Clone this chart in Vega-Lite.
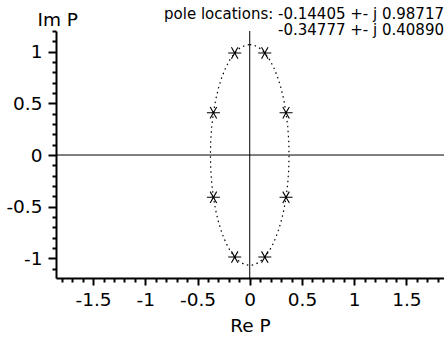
{
  "$schema": "https://vega.github.io/schema/vega-lite/v6.json",
  "width": 388,
  "height": 247,
  "autosize": {"type": "none"},
  "padding": {"left": 56, "top": 31, "right": 0, "bottom": 63},
  "background": "white",
  "config": {
    "view": {"stroke": null},
    "font": "DejaVu Sans",
    "axis": {
      "grid": false,
      "domainColor": "black",
      "tickColor": "black",
      "labelColor": "black",
      "titleColor": "black",
      "labelFont": "DejaVu Sans",
      "titleFont": "DejaVu Sans",
      "titleFontWeight": "normal"
    }
  },
  "title": {
    "text": ["pole locations: -0.14405 +- j 0.98717", "-0.34777 +- j 0.40890"],
    "anchor": "end",
    "frame": "group",
    "align": "right",
    "baseline": "alphabetic",
    "font": "DejaVu Sans",
    "fontSize": 15,
    "fontWeight": "normal",
    "color": "black",
    "lineHeight": 16.5,
    "offset": 0,
    "dy": 40,
    "dx": 0
  },
  "datasets": {
    "ellipse": [
      {"i": 0, "re": 0, "im": 1.0685},
      {"i": 1, "re": 0.0491, "im": 1.0593},
      {"i": 2, "re": 0.0974, "im": 1.0321},
      {"i": 3, "re": 0.1441, "im": 0.9872},
      {"i": 4, "re": 0.1883, "im": 0.9253},
      {"i": 5, "re": 0.2292, "im": 0.8478},
      {"i": 6, "re": 0.2662, "im": 0.7555},
      {"i": 7, "re": 0.2987, "im": 0.6505},
      {"i": 8, "re": 0.3261, "im": 0.5343},
      {"i": 9, "re": 0.3478, "im": 0.4089},
      {"i": 10, "re": 0.3637, "im": 0.2765},
      {"i": 11, "re": 0.3733, "im": 0.1394},
      {"i": 12, "re": 0.3765, "im": 0},
      {"i": 13, "re": 0.3733, "im": -0.1394},
      {"i": 14, "re": 0.3637, "im": -0.2765},
      {"i": 15, "re": 0.3478, "im": -0.4089},
      {"i": 16, "re": 0.3261, "im": -0.5343},
      {"i": 17, "re": 0.2987, "im": -0.6505},
      {"i": 18, "re": 0.2662, "im": -0.7555},
      {"i": 19, "re": 0.2292, "im": -0.8478},
      {"i": 20, "re": 0.1883, "im": -0.9253},
      {"i": 21, "re": 0.1441, "im": -0.9872},
      {"i": 22, "re": 0.0974, "im": -1.0321},
      {"i": 23, "re": 0.0491, "im": -1.0593},
      {"i": 24, "re": 0, "im": -1.0685},
      {"i": 25, "re": -0.0491, "im": -1.0593},
      {"i": 26, "re": -0.0974, "im": -1.0321},
      {"i": 27, "re": -0.1441, "im": -0.9872},
      {"i": 28, "re": -0.1883, "im": -0.9253},
      {"i": 29, "re": -0.2292, "im": -0.8478},
      {"i": 30, "re": -0.2662, "im": -0.7555},
      {"i": 31, "re": -0.2987, "im": -0.6505},
      {"i": 32, "re": -0.3261, "im": -0.5343},
      {"i": 33, "re": -0.3478, "im": -0.4089},
      {"i": 34, "re": -0.3637, "im": -0.2765},
      {"i": 35, "re": -0.3733, "im": -0.1394},
      {"i": 36, "re": -0.3765, "im": 0},
      {"i": 37, "re": -0.3733, "im": 0.1394},
      {"i": 38, "re": -0.3637, "im": 0.2765},
      {"i": 39, "re": -0.3478, "im": 0.4089},
      {"i": 40, "re": -0.3261, "im": 0.5343},
      {"i": 41, "re": -0.2987, "im": 0.6505},
      {"i": 42, "re": -0.2662, "im": 0.7555},
      {"i": 43, "re": -0.2292, "im": 0.8478},
      {"i": 44, "re": -0.1883, "im": 0.9253},
      {"i": 45, "re": -0.1441, "im": 0.9872},
      {"i": 46, "re": -0.0974, "im": 1.0321},
      {"i": 47, "re": -0.0491, "im": 1.0593},
      {"i": 48, "re": 0, "im": 1.0685}
    ],
    "poles": [
      {"re": -0.14405, "im": 0.98717},
      {"re": 0.14405, "im": 0.98717},
      {"re": -0.14405, "im": -0.98717},
      {"re": 0.14405, "im": -0.98717},
      {"re": -0.34777, "im": 0.4089},
      {"re": 0.34777, "im": 0.4089},
      {"re": -0.34777, "im": -0.4089},
      {"re": 0.34777, "im": -0.4089}
    ],
    "origin": [{"re": 0, "im": 0}]
  },
  "resolve": {"axis": {"x": "independent", "y": "independent"}},
  "layer": [
    {
      "data": {"name": "ellipse"},
      "mark": {"type": "line", "color": "black", "strokeWidth": 1.2, "strokeDash": [1.5, 3.5], "clip": true},
      "encoding": {
        "x": {"field": "re", "type": "quantitative", "scale": {"domain": [-1.855, 1.86], "nice": false, "zero": false},
          "axis": {"orient": "bottom", "values": [-1.8,-1.7,-1.6,-1.4,-1.3,-1.2,-1.1,-0.9,-0.8,-0.7,-0.6,-0.4,-0.3,-0.2,-0.1,0.1,0.2,0.3,0.4,0.6,0.7,0.8,0.9,1.1,1.2,1.3,1.4,1.6,1.7,1.8], "labels": false, "domain": false, "tickSize": 4, "tickWidth": 2, "title": null}},
        "y": {"field": "im", "type": "quantitative", "scale": {"domain": [-1.19, 1.2], "nice": false, "zero": false},
          "axis": {"orient": "left", "values": [-1.1,-0.9,-0.8,-0.7,-0.6,-0.4,-0.3,-0.2,-0.1,0.1,0.2,0.3,0.4,0.6,0.7,0.8,0.9,1.1,1.2], "labels": false, "domain": false, "tickSize": 4, "tickWidth": 2, "title": null}},
        "order": {"field": "i", "type": "quantitative"}
      }
    },
    {
      "data": {"name": "origin"},
      "mark": {"type": "rule", "color": "black", "strokeWidth": 1},
      "encoding": {"x": {"field": "re", "type": "quantitative", "axis": null}}
    },
    {
      "data": {"name": "origin"},
      "mark": {"type": "rule", "color": "black", "strokeWidth": 1},
      "encoding": {"y": {"field": "im", "type": "quantitative", "axis": null}}
    },
    {
      "data": {"name": "poles"},
      "mark": {"type": "point", "shape": "M-1,0L1,0M-0.5,-0.87L0.5,0.87M-0.5,0.87L0.5,-0.87", "filled": false, "color": "black", "strokeWidth": 1.1, "size": 170, "opacity": 1},
      "encoding": {
        "x": {"field": "re", "type": "quantitative",
          "axis": {"orient": "bottom", "values": [-1.5,-1,-0.5,0,0.5,1,1.5], "labelExpr": "'' + datum.value", "tickSize": 7, "tickWidth": 2, "domainWidth": 2, "labelFontSize": 18.5, "labelPadding": 5, "title": "Re P", "titleFontSize": 18.5, "titlePadding": 8}},
        "y": {"field": "im", "type": "quantitative",
          "axis": {"orient": "left", "values": [-1,-0.5,0,0.5,1], "labelExpr": "'' + datum.value", "tickSize": 8, "tickWidth": 2, "domainWidth": 2, "labelFontSize": 18.5, "labelPadding": 6, "title": "Im P", "titleFontSize": 18.5, "titleAngle": 0, "titleAlign": "left", "titleBaseline": "alphabetic", "titleX": -19, "titleY": -6}}
      }
    }
  ]
}
